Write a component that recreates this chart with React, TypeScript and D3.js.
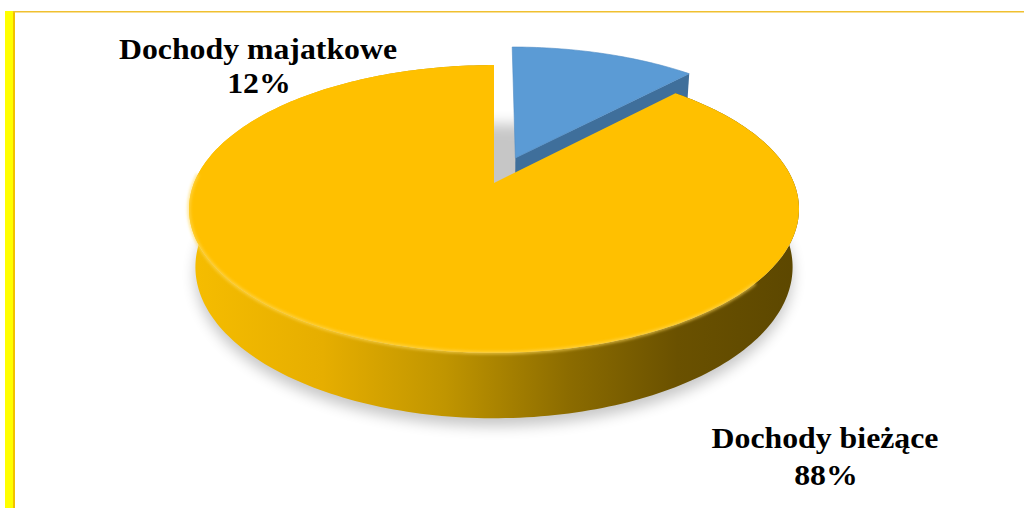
import React from "react";
import * as d3 from "d3";

const categories = ["Dochody majatkowe", "Dochody bieżące"];
const values = [12, 88];
const percentLabels = ["12%", "88%"];

const W = 1024;
const H = 508;

// 3D projection parameters
const S = 300;
const CX = 494;
const CY = 183;
const SIN_A = 0.464;
const COS_A = 0.886;
const DIST = 4.91;
const DEPTH = 0.22;
const EXPLODE = [0.2, 0];

function project(x: number, y: number, z: number): [number, number] {
  const yv = y * COS_A - z * SIN_A;
  const zv = z * COS_A + y * SIN_A;
  const f = DIST / (DIST - zv);
  return [CX + S * x * f, CY - S * yv * f];
}

const lineGen = d3.line<[number, number]>().x((d) => d[0]).y((d) => d[1]);

function rimPoints(a0: number, a1: number, y: number, ox: number, oz: number) {
  const n = Math.max(4, Math.ceil(Math.abs(a1 - a0) / 0.02));
  return d3.range(n + 1).map((i) => {
    const a = a0 + ((a1 - a0) * i) / n;
    return project(ox + Math.sin(a), y, oz - Math.cos(a));
  });
}

export default function App() {
  const arcs = d3.pie<number>().sort(null).startAngle(0).endAngle(2 * Math.PI)(values);

  const fills = ["#5B9BD5", "#FFC000"];
  const cutFills = ["#3F6F9B", "#B88E00"];

  const slices = arcs.map((a, i) => {
    const mid = (a.startAngle + a.endAngle) / 2;
    const e = EXPLODE[i];
    const ox = e * Math.sin(mid);
    const oz = -e * Math.cos(mid);
    const apexTop = project(ox, 0, oz);
    const apexBot = project(ox, -DEPTH, oz);
    const top = lineGen([apexTop, ...rimPoints(a.startAngle, a.endAngle, 0, ox, oz)]) + "Z";
    const wall =
      lineGen([
        ...rimPoints(a.startAngle, a.endAngle, 0, ox, oz),
        ...rimPoints(a.endAngle, a.startAngle, -DEPTH, ox, oz),
      ]) + "Z";
    const ea = a.endAngle;
    const cutEnd =
      lineGen([
        apexTop,
        project(ox + Math.sin(ea), 0, oz - Math.cos(ea)),
        project(ox + Math.sin(ea), -DEPTH, oz - Math.cos(ea)),
        apexBot,
      ]) + "Z";
    const rimHi = lineGen(rimPoints(Math.PI * 0.72, Math.PI * 1.52, 0, ox, oz));
    return { i, top, wall, cutEnd, rimHi };
  });

  const shadowPath = lineGen(rimPoints(0, 2 * Math.PI, -DEPTH, 0, 0)) + "Z";

  const blue = slices[0];
  const yellow = slices[1];

  const font = "'Liberation Serif', 'Times New Roman', serif";

  return (
    <svg
      width={W}
      height={H}
      style={{ position: "absolute", left: 0, top: 0, background: "#fff" }}
    >
      <defs>
        <filter id="blur" x="-20%" y="-20%" width="140%" height="140%">
          <feGaussianBlur stdDeviation="7" />
        </filter>
        <filter id="blur2" x="-20%" y="-20%" width="140%" height="140%">
          <feGaussianBlur stdDeviation="1.5" />
        </filter>
        <linearGradient id="wallGrad" gradientUnits="userSpaceOnUse" x1={188} y1={0} x2={800} y2={0}>
          <stop offset="0" stopColor="#F6BD00" />
          <stop offset="0.22" stopColor="#E6AE00" />
          <stop offset="0.42" stopColor="#C09500" />
          <stop offset="0.62" stopColor="#8C6C00" />
          <stop offset="0.8" stopColor="#6A5100" />
          <stop offset="1" stopColor="#5C4700" />
        </linearGradient>
      </defs>

      {/* frame */}
      <rect x={5} y={11} width={8} height={H - 11} fill="#FFFF00" />
      <rect x={13} y={11} width={2} height={H - 11} fill="#F2C200" />
      <rect x={13} y={11} width={W - 13} height={1.5} fill="#F0C030" />

      {/* shadow */}
      <path d={shadowPath} transform="translate(0,8)" fill="#000" opacity={0.22} filter="url(#blur)" />

      {/* blue slice (exploded) */}
      <path d={blue.cutEnd} fill={cutFills[0]} />
      <path d={blue.top} fill={fills[0]} stroke="#4F8CC4" strokeWidth={0.6} />

      {/* yellow slice */}
      <path d={yellow.wall} fill="url(#wallGrad)" />
      <path d={yellow.top} fill={fills[1]} />
      <path
        d={yellow.rimHi || ""}
        fill="none"
        stroke="#FFD95A"
        strokeWidth={3}
        opacity={0.7}
        filter="url(#blur2)"
      />

      {/* labels */}
      <g fontFamily={font} fontWeight="bold" fontSize={30} fill="#000" textAnchor="middle">
        <text transform="translate(258,59) scale(1.06,1)">{categories[0]}</text>
        <text transform="translate(259,93) scale(1.06,1)">{percentLabels[0]}</text>
        <text transform="translate(825,448) scale(1.06,1)">{categories[1]}</text>
        <text transform="translate(826,485) scale(1.06,1)">{percentLabels[1]}</text>
      </g>
    </svg>
  );
}
